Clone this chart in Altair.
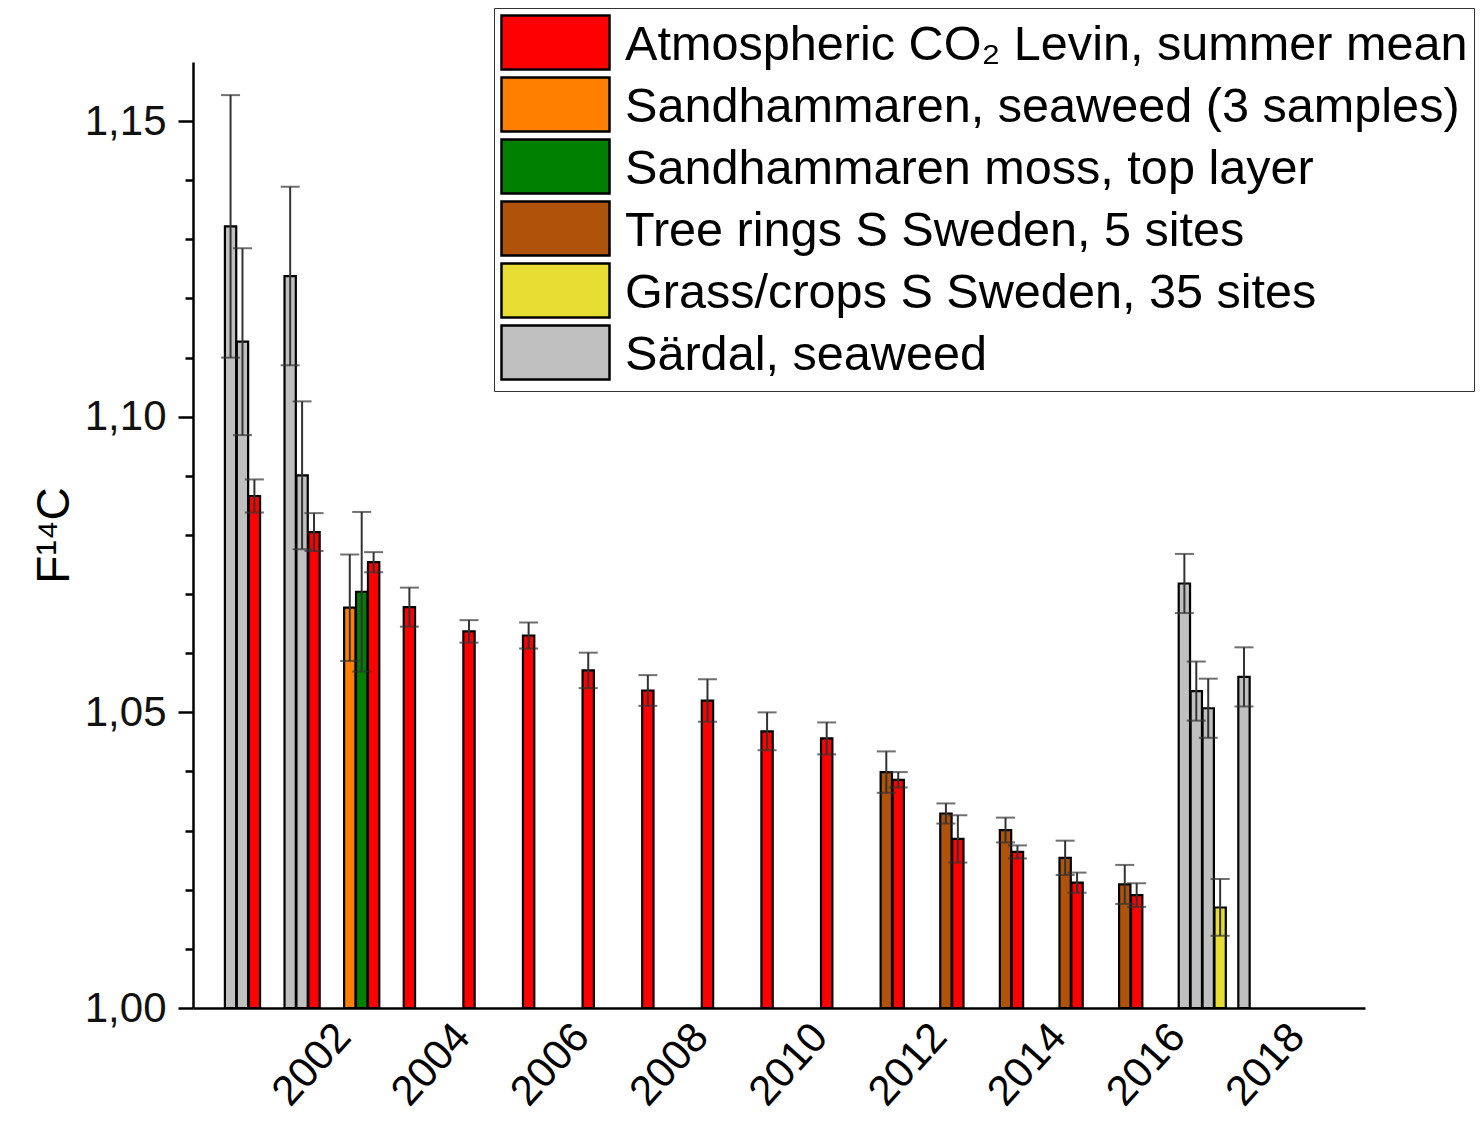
import altair as alt
import pandas as pd

# ---- data ----
series_names = [
    "Atmospheric CO\u2082 Levin, summer mean",
    "Sandhammaren, seaweed (3 samples)",
    "Sandhammaren moss, top layer",
    "Tree rings S Sweden, 5 sites",
    "Grass/crops S Sweden, 35 sites",
    "S\u00e4rdal, seaweed",
]
series_colors = ["#FF0000", "#FF8000", "#008000", "#AF520A", "#E6DC32", "#C0C0C0"]

levin_x = [2000.4, 2001.4, 2002.4, 2003, 2004, 2005, 2006, 2007, 2008, 2009, 2010,
           2011.2, 2012.2, 2013.2, 2014.2, 2015.2]
levin_y = [1.0866, 1.0805, 1.0754, 1.0678, 1.0637, 1.0630, 1.0571, 1.0537, 1.0520,
           1.0468, 1.0456, 1.0386, 1.0286, 1.0264, 1.0212, 1.0191]
levin_err = [0.0028, 0.0032, 0.0017, 0.0033, 0.0019, 0.0022, 0.0030, 0.0026, 0.0036,
             0.0032, 0.0027, 0.0013, 0.0040, 0.0011, 0.0017, 0.0020]

seaweed_x = [2002.0]
seaweed_y = [1.0677]
seaweed_err = [0.0090]

moss_x = [2002.2]
moss_y = [1.0704]
moss_err = [0.0135]

tree_x = [2011.0, 2012.0, 2013.0, 2014.0, 2015.0]
tree_y = [1.0399, 1.0329, 1.0301, 1.0254, 1.0209]
tree_err = [0.0035, 0.0017, 0.0021, 0.0029, 0.0033]

grass_x = [2016.6]
grass_y = [1.0170]
grass_err = [0.0048]

sardal_x = [2000.0, 2000.2, 2001.0, 2001.2, 2016.0, 2016.2, 2016.4, 2017.0]
sardal_y = [1.1322, 1.1127, 1.1238, 1.0901, 1.0718, 1.0536, 1.0507, 1.0560]
sardal_err = [0.0222, 0.0158, 0.0151, 0.0125, 0.0050, 0.0050, 0.0050, 0.0050]

x_ticks = [2002, 2004, 2006, 2008, 2010, 2012, 2014, 2016, 2018]
y_ticks = [round(1.00 + 0.01 * i, 2) for i in range(16)]

# ---- table ----
rows = []
for name, xs, ys, es in zip(
    series_names,
    [levin_x, seaweed_x, moss_x, tree_x, grass_x, sardal_x],
    [levin_y, seaweed_y, moss_y, tree_y, grass_y, sardal_y],
    [levin_err, seaweed_err, moss_err, tree_err, grass_err, sardal_err],
):
    for x, y, e in zip(xs, ys, es):
        rows.append({"series": name, "pos": x, "value": y, "err": e})
df = pd.DataFrame(rows)

FONT = "Liberation Sans"

xscale = alt.Scale(domain=[1999.37, 2019.03], nice=False, zero=False)
yscale = alt.Scale(domain=[1.0, 1.16], nice=False, zero=False)

base = alt.Chart(df).transform_calculate(
    xl="datum.pos - 0.095",
    xr="datum.pos + 0.095",
    lo="datum.value - datum.err",
    hi="datum.value + datum.err",
)

is_major = "abs(round(datum.value*100) % 5) == 0"

bars = base.mark_bar(stroke="black", strokeWidth=2.2, opacity=1).encode(
    x=alt.X(
        "xl:Q",
        scale=xscale,
        axis=alt.Axis(
            values=x_ticks,
            format="d",
            title=None,
            ticks=False,
            labelAngle=-48,
            labelAlign="right",
            labelBaseline="top",
            labelFont=FONT,
            labelFontSize=42,
            labelColor="black",
            labelPadding=8,
            labelOffset=-22,
            domainColor="black",
            domainWidth=2.5,
            grid=False,
        ),
    ),
    x2="xr:Q",
    y=alt.Y(
        "value:Q",
        scale=yscale,
        axis=alt.Axis(
            values=y_ticks,
            labelExpr=is_major + " ? replace(format(datum.value, '.2f'), '.', ',') : ''",
            title="F\u00b9\u2074C",
            titleFont=FONT,
            titleFontSize=46,
            titleFontWeight="normal",
            titleColor="black",
            titlePadding=6,
            labelFont=FONT,
            labelFontSize=42,
            labelColor="#111111",
            labelPadding=12,
            tickSize={"condition": {"test": is_major, "value": 15}, "value": 8},
            tickColor="black",
            tickWidth=2.5,
            domainColor="black",
            domainWidth=2.5,
            grid=False,
        ),
    ),
    y2=alt.datum(1.0),
    color=alt.Color(
        "series:N",
        scale=alt.Scale(domain=series_names, range=series_colors),
        legend=alt.Legend(
            title=None,
            orient="none",
            legendX=301,
            legendY=-54,
            symbolType="M-1,-1L1,-1L1,0L-1,0Z",
            symbolSize=11664,
            symbolStrokeColor="black",
            symbolStrokeWidth=2.5,
            symbolOpacity=1,
            labelFont=FONT,
            labelFontSize=48.6,
            labelBaseline="bottom",
            labelColor="black",
            labelOffset=14,
            labelLimit=2000,
            rowPadding=-3,
            padding=6,
            strokeColor="#333333",
            fillColor="white",
        ),
    ),
)

err_color = "#333333"
err_rule = base.mark_rule(color=err_color, strokeWidth=2).encode(
    x=alt.X("pos:Q", scale=xscale),
    y=alt.Y("lo:Q", scale=yscale),
    y2="hi:Q",
)
cap_hi = base.mark_tick(color=err_color, orient="horizontal", size=19, thickness=2).encode(
    x=alt.X("pos:Q", scale=xscale),
    y=alt.Y("hi:Q", scale=yscale),
)
cap_lo = base.mark_tick(color=err_color, orient="horizontal", size=19, thickness=2).encode(
    x=alt.X("pos:Q", scale=xscale),
    y=alt.Y("lo:Q", scale=yscale),
)

chart = (
    alt.layer(bars, err_rule, cap_hi, cap_lo)
    .properties(
        width=1172,
        height=946,
        padding={"left": 193, "top": 62, "right": 115, "bottom": 116},
        autosize=alt.AutoSizeParams(type="none"),
        background="white",
    )
    .configure_view(stroke=None)
)

chart.save("out.html", embed_options={"renderer": "svg", "actions": False})
